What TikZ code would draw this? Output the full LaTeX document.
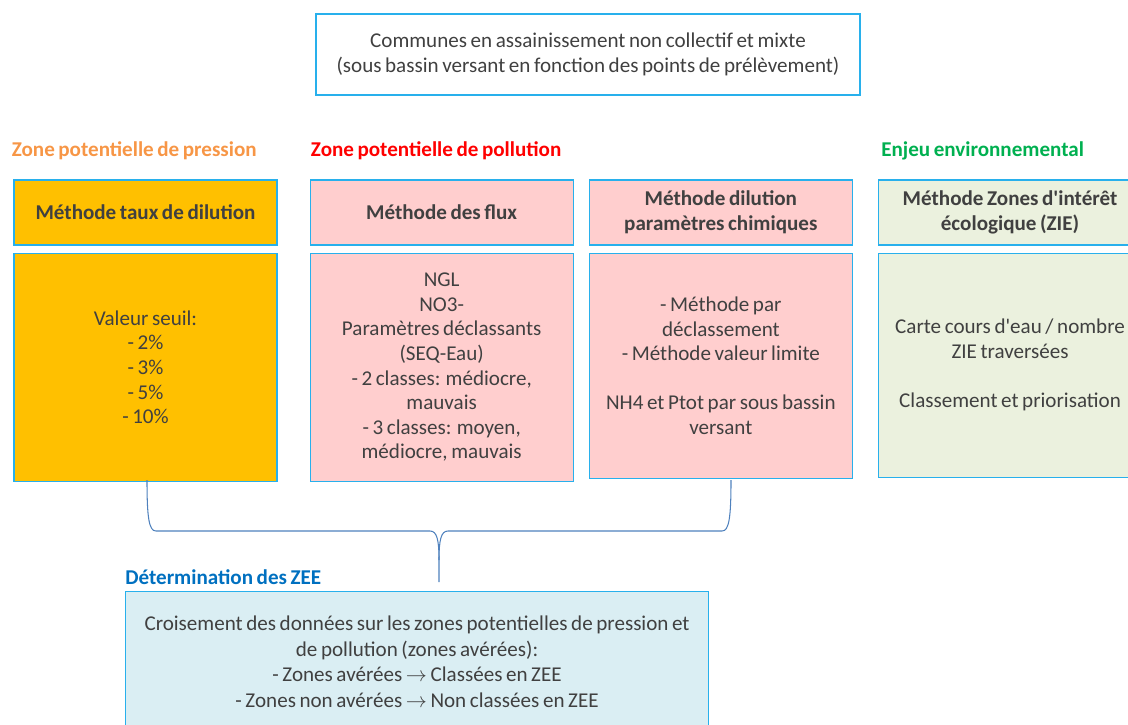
\documentclass[tikz,border=0pt]{standalone}
\usepackage{fontspec}
\setmainfont{Carlito}[WordSpace=0.75]
\usetikzlibrary{positioning}
\definecolor{zborder}{RGB}{40,176,236}
\definecolor{ztext}{RGB}{64,64,64}
\definecolor{zorange}{RGB}{247,150,70}
\definecolor{zred}{RGB}{255,0,0}
\definecolor{zgreen}{RGB}{0,176,80}
\definecolor{zblue}{RGB}{0,112,192}
\definecolor{zamber}{RGB}{255,192,0}
\definecolor{zpink}{RGB}{255,206,206}
\definecolor{zsage}{RGB}{235,241,222}
\definecolor{zcyan}{RGB}{218,238,243}
\definecolor{zbrace}{RGB}{79,129,189}

\begin{document}
\begin{tikzpicture}[x=0.02cm, y=-0.02cm,
  box/.style={rectangle, draw=zborder, line width=0.7pt, align=center, inner sep=2pt, text=ztext, font=\fontsize{12}{14}\selectfont},
  head/.style={box, minimum width=5.26cm, minimum height=1.3cm, font=\fontsize{12}{14}\selectfont\bfseries},
  body/.style={box, minimum width=5.26cm, minimum height=4.56cm},
  zone/.style={inner sep=0pt, anchor=base west, font=\fontsize{12}{14}\selectfont\bfseries},
  bracket/.style={draw=zbrace, line width=0.6pt}
]
\useasboundingbox (0,0) rectangle (1128,724);
\clip (0,0) rectangle (1128,724);

\node[box, minimum width=10.88cm, minimum height=1.62cm] (communes) at (588,54.5) {Communes en assainissement non collectif et mixte\\(sous bassin versant en fonction des points de prélèvement)};

\node[head, fill=zamber] (taux) at (145.5,212.5) {Méthode taux de dilution};
\node[head, fill=zpink, right=0.64cm of taux] (flux) {Méthode des flux};
\node[head, fill=zpink, right=0.3cm of flux] (chim) {Méthode dilution\\paramètres chimiques};
\node[head, fill=zsage, right=0.5cm of chim] (zie) {Méthode Zones d\textquotesingle intérêt\\écologique (ZIE)};

\node[body, fill=zamber, below=0.14cm of taux] (tauxval) {Valeur seuil:\\- 2\%\\- 3\%\\- 5\%\\- 10\%};
\node[body, fill=zpink, below=0.14cm of flux] (fluxval) {NGL\\NO3-\\Paramètres déclassants\\(SEQ-Eau)\\- 2 classes: médiocre,\\mauvais\\- 3 classes: moyen,\\médiocre, mauvais};
\node[body, fill=zpink, below=0.14cm of chim, minimum height=4.5cm] (chimval) {- Méthode par\\déclassement\\- Méthode valeur limite\\[14pt]NH4 et Ptot par sous bassin\\versant};
\node[body, fill=zsage, below=0.14cm of zie, minimum height=4.48cm] (zieval) {Carte cours d\textquotesingle eau / nombre\\ZIE traversées\\[14pt]Classement et priorisation};

\node[zone, text=zorange] (pression) at ([xshift=-0.04cm, yshift=0.46cm]taux.north west) {Zone potentielle de pression};
\node[zone, text=zred] (pollution) at ([xshift=0.02cm, yshift=0.46cm]flux.north west) {Zone potentielle de pollution};
\node[zone, text=zgreen] (enjeu) at ([xshift=0.06cm, yshift=0.46cm]zie.north west) {Enjeu environnemental};

\node[box, fill=zcyan, anchor=north west, minimum width=11.66cm, minimum height=2.8cm, font=\fontsize{12}{14.5}\selectfont] (zee) at (125,591) {Croisement des données sur les zones potentielles de pression et\\de pollution (zones avérées):\\- Zones avérées $\rightarrow$ Classées en ZEE\\- Zones non avérées $\rightarrow$ Non classées en ZEE};
\node[zone, text=zblue] (determ) at ([yshift=0.14cm]zee.north west) {Détermination des ZEE};

\coordinate (bl) at (147,480);
\coordinate (br) at (731,480);
\coordinate (bm) at (439,560);
\coordinate (btip) at (439,582);
\draw[bracket] (bl) .. controls (147,518) and (149,531) .. (156,531) -- (430,531) .. controls (437,531) and (439,540) .. (bm) -- (btip);
\draw[bracket] (br) .. controls (731,518) and (729,531) .. (722,531) -- (448,531) .. controls (441,531) and (439,540) .. (bm);
\end{tikzpicture}
\end{document}
